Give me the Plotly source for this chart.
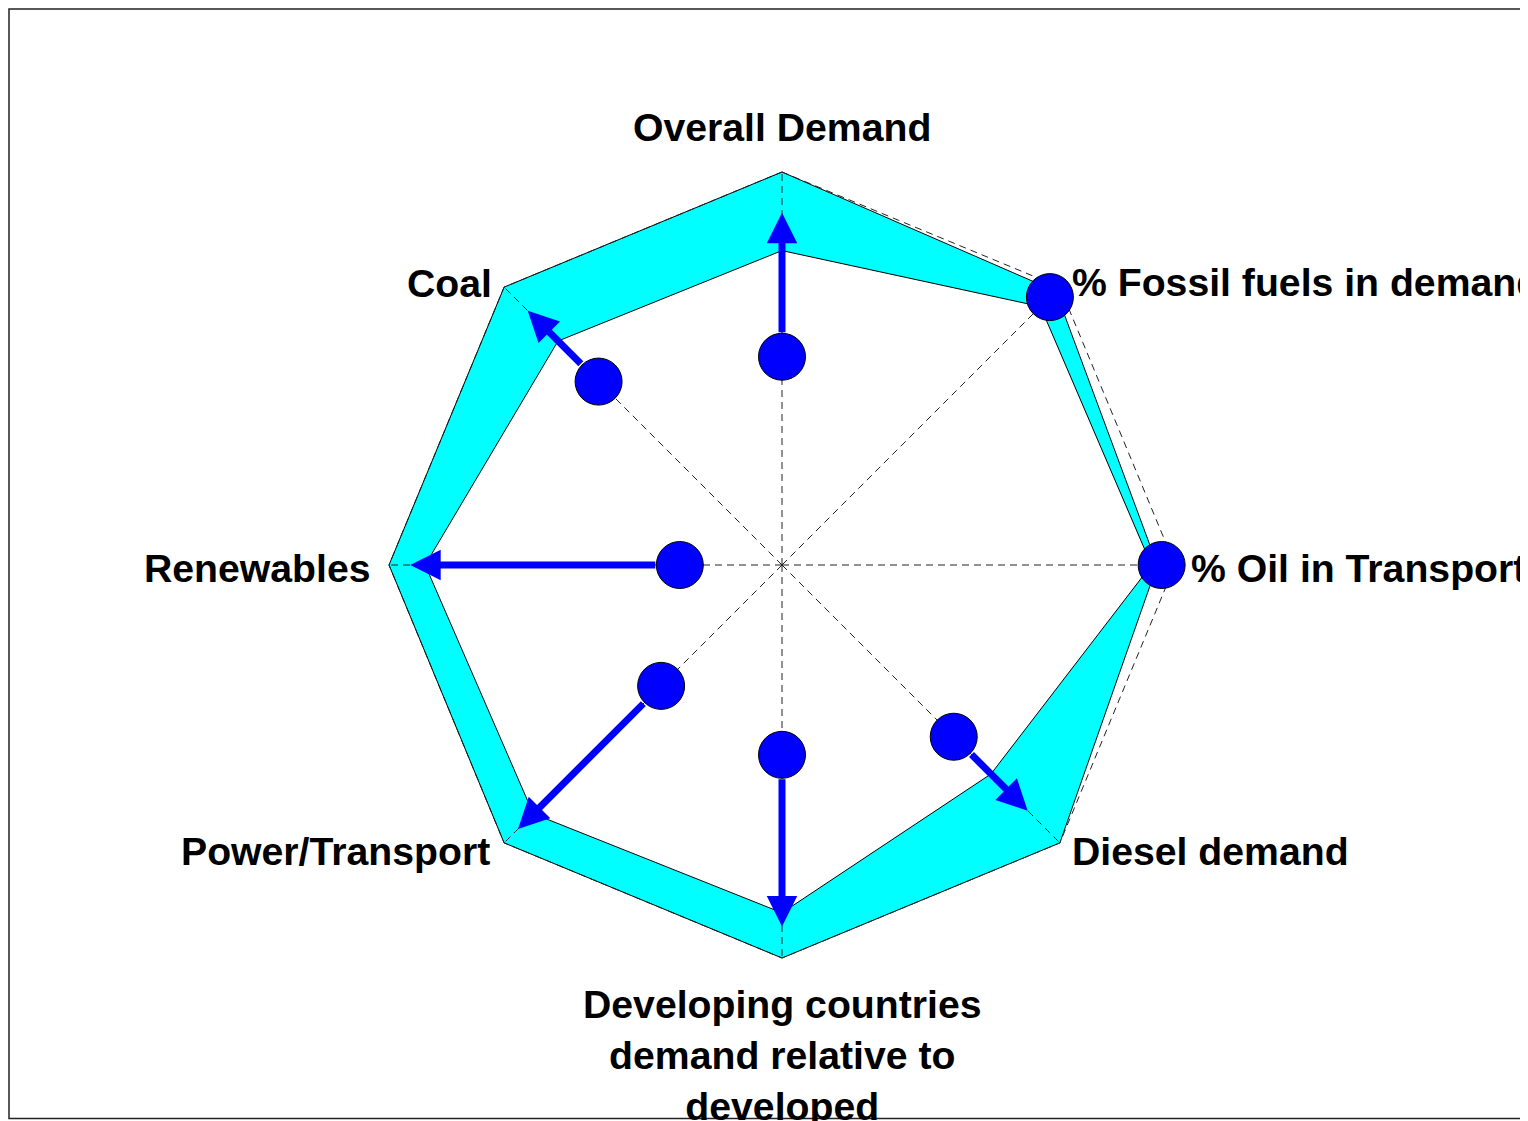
import numpy as np
import plotly.graph_objects as go

# ---------------- data (normalised radial values, 1 = outer octagon) ----------------
categories = [
    "Overall Demand",
    "% Fossil fuels in demand",
    "% Oil in Transport",
    "Diesel demand",
    "Developing countries<br>demand relative to<br>developed",
    "Power/Transport",
    "Renewables",
    "Coal",
]
range_low = [0.80, 0.93, 0.94, 0.752, 0.885, 0.895, 0.908, 0.806]
range_high = [1.00, 0.985, 0.955, 1.00, 1.00, 1.00, 1.00, 1.00]
current = [0.53, 0.964, 0.966, 0.618, 0.483, 0.435, 0.26, 0.66]
trend_to = [0.896, None, None, 0.884, 0.92, 0.95, 0.946, 0.915]

# ---------------- geometry / style ----------------
W, H = 1520, 1113          # page body has an 8px margin -> fills the 1528x1121 window
CX, CY, S = 774, 557, 393  # centre (figure pixels) and pixels per unit radius
n = len(categories)
ang = np.deg2rad(90 - 45 * np.arange(n))


def xy(r):
    r = np.asarray(r, dtype=float)
    return r * np.cos(ang), r * np.sin(ang)


def closed(a):
    a = list(a)
    return a + a[:1]


fig = go.Figure()

# band (outer polygon cyan, inner polygon white)
xo, yo = xy(range_high)
fig.add_trace(go.Scatter(x=closed(xo), y=closed(yo), mode="lines", fill="toself",
                         fillcolor="#00FFFF", line=dict(color="black", width=1),
                         hoverinfo="skip", showlegend=False))
xi, yi = xy(range_low)
fig.add_trace(go.Scatter(x=closed(xi), y=closed(yi), mode="lines", fill="toself",
                         fillcolor="white", line=dict(color="black", width=1),
                         hoverinfo="skip", showlegend=False))

# dashed spokes and reference octagon
dash = "7px,5px"
xr, yr = xy(np.ones(n))
for k in range(n):
    fig.add_trace(go.Scatter(x=[0, xr[k]], y=[0, yr[k]], mode="lines",
                             line=dict(color="#222222", width=1, dash=dash),
                             hoverinfo="skip", showlegend=False))
fig.add_trace(go.Scatter(x=closed(xr), y=closed(yr), mode="lines",
                         line=dict(color="#222222", width=1, dash=dash),
                         hoverinfo="skip", showlegend=False))

# current values
xc, yc = xy(current)
fig.add_trace(go.Scatter(x=xc, y=yc, mode="markers",
                         marker=dict(size=47, color="#0000FF", line=dict(color="black", width=1)),
                         hoverinfo="skip", showlegend=False))

# trend arrows
annotations = []
for k in range(n):
    if trend_to[k] is None:
        continue
    tx, ty = trend_to[k] * np.cos(ang[k]), trend_to[k] * np.sin(ang[k])
    annotations.append(dict(x=tx, y=ty, ax=xc[k], ay=yc[k], xref="x", yref="y",
                            axref="x", ayref="y", text="", showarrow=True,
                            arrowhead=2, arrowsize=0.87, arrowwidth=7,
                            arrowcolor="#0000FF", startstandoff=23, standoff=0))

# axis labels
label_pos = [
    ("center", 0, 45),
    ("left", 10, 5),
    ("left", 14, -3),
    ("left", 10, -9),
    ("center", 0, -97),
    ("right", -12, -9),
    ("right", -16, -3),
    ("right", -10, 4),
]
for k in range(n):
    xa, xs, ys = label_pos[k]
    annotations.append(dict(x=xr[k], y=yr[k], xref="x", yref="y", text="<b>%s</b>" % categories[k],
                            showarrow=False, xanchor=xa, yanchor="middle", xshift=xs, yshift=ys,
                            align="center",
                            font=dict(family="Liberation Sans, Arial, sans-serif", size=39.2,
                                      color="black")))

fig.update_layout(
    width=W, height=H,
    margin=dict(l=0, r=0, t=0, b=0),
    paper_bgcolor="white", plot_bgcolor="white",
    xaxis=dict(range=[-CX / S, (W - CX) / S], visible=False, fixedrange=True),
    yaxis=dict(range=[-(H - CY) / S, CY / S], visible=False, fixedrange=True),
    annotations=annotations,
    shapes=[dict(type="rect", xref="paper", yref="paper",
                 x0=1 / W, x1=1.05, y0=1 - 1110.5 / H, y1=1 - 1 / H,
                 line=dict(color="#222222", width=1.5), layer="below")],
    showlegend=False,
)

fig.write_html("out.html", post_script="document.body.style.overflow='hidden';")
